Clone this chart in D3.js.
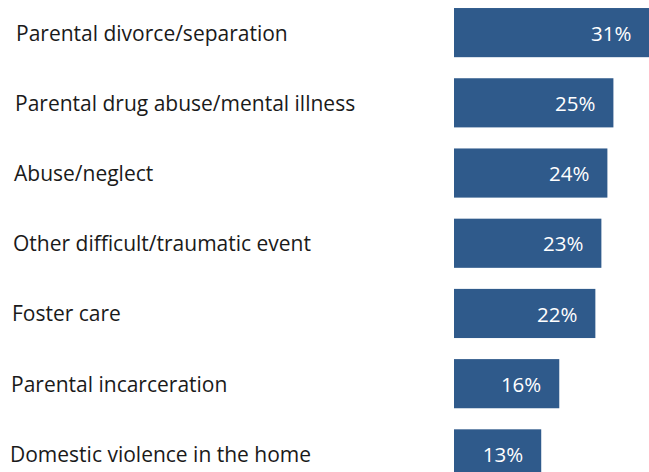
<!DOCTYPE html>
<html>
<head>
<meta charset="utf-8">
<script src="https://cdn.jsdelivr.net/npm/d3@7"></script>
<style>
  html, body { margin: 0; padding: 0; background: #ffffff; }
  svg { display: block; }
</style>
</head>
<body>
<div id="chart"></div>
<script>
// Categories and shares (%), top to bottom
const categories = [
  "Parental divorce/separation",
  "Parental drug abuse/mental illness",
  "Abuse/neglect",
  "Other difficult/traumatic event",
  "Foster care",
  "Parental incarceration",
  "Domestic violence in the home"
];
const values = [31, 25, 24, 23, 22, 16, 13];
const valueLabels = ["31%", "25%", "24%", "23%", "22%", "16%", "13%"];

const width = 649, height = 472;
const barColor = "#2F5A8B";
const font = "'Open Sans', 'Noto Sans', sans-serif";

const svg = d3.select("#chart").append("svg")
  .attr("width", width)
  .attr("height", height);

const x = d3.scaleLinear().domain([-1.5, 31]).range([454, 649.5]);
const y = d3.scaleBand()
  .domain(categories)
  .range([-2.5, 489])
  .paddingInner(0.3)
  .paddingOuter(0.15);

const rows = categories.map((c, i) => ({ cat: c, value: values[i], label: valueLabels[i], i }));

svg.selectAll("rect.bar")
  .data(rows)
  .join("rect")
  .attr("class", "bar")
  .attr("x", x(-1.5))
  .attr("y", d => y(d.cat))
  .attr("width", d => x(d.value) - x(-1.5))
  .attr("height", y.bandwidth())
  .attr("fill", barColor);

// Value labels inside the bars
svg.selectAll("text.value")
  .data(rows)
  .join("text")
  .attr("class", "value")
  .attr("x", d => x(d.value) - 18)
  .attr("y", d => y(d.cat) + y.bandwidth() / 2)
  .attr("dy", "0.4em")
  .attr("text-anchor", "end")
  .attr("fill", "#ffffff")
  .style("font-family", font)
  .style("font-size", "20.5px")
  .text(d => d.label);

// Category labels on the left
svg.selectAll("text.cat")
  .data(rows)
  .join("text")
  .attr("class", "cat")
  .attr("x", d => 16 - d.i)
  .attr("y", d => y(d.cat) + y.bandwidth() / 2 + 8)
  .attr("fill", "#1a1a1a")
  .style("font-family", font)
  .style("font-size", "21px")
  .text(d => d.cat);
</script>
</body>
</html>
